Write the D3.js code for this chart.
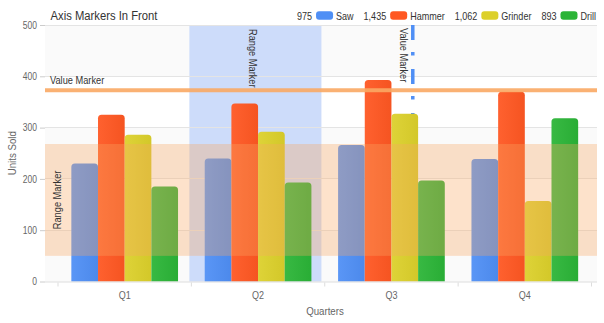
<!DOCTYPE html>
<html><head><meta charset="utf-8">
<script src="https://cdn.jsdelivr.net/npm/d3@7"></script>
<style>body{margin:0;background:#fff;} svg{display:block;font-family:"Liberation Sans",Arial,sans-serif;}</style>
</head><body><svg id="c" width="604" height="323"></svg>
<script>
const quarters = ["Q1","Q2","Q3","Q4"];
const seriesNames = ["Saw","Hammer","Grinder","Drill"];
const saw = [230,240,266,239];
const hammer = [325,347,393,370];
const grinder = [286,292,327,157];
const drill = [185,193,197,318];
const yTickValues = [0,100,200,300,400,500];
const yValueMarker = 373;
const yRangeMarker = [50,268];
const xValueMarker = 2.16;          // in category-index units
const xRangeMarker = [0.485,1.475]; // in category-index units
const seriesColors = ["#4f8ff5","#ff5722","#dcd02b","#2bb437"];
const titleText = "Axis Markers In Front";

const series = [saw,hammer,grinder,drill];
const svg = d3.select("#c");
const L = 45, R = 597, T = 25, B = 281.5;

const y = d3.scaleLinear().domain([0,500]).range([B,T]);
const x0 = d3.scaleBand().domain(quarters).range([58,591.5]);
const bw = x0.bandwidth();
const x1 = d3.scaleBand().domain(seriesNames).range([bw*0.1,bw*0.9]);
const xi = d3.scaleLinear().domain([-0.5,3.5]).range([58,591.5]);

function squeeze(sel,k){ sel.each(function(){ const w=this.getComputedTextLength(); d3.select(this).attr("textLength",w*k).attr("lengthAdjust","spacingAndGlyphs"); }); }

// alternating plot bands
const bandPairs = [[0,100],[200,300],[400,500]];
svg.append("g").selectAll("rect").data(bandPairs).join("rect")
  .attr("x",L).attr("width",R-L).attr("y",d=>y(d[1])).attr("height",d=>y(d[0])-y(d[1]))
  .attr("fill","#fafafa");

// x range marker (behind bars)
svg.append("rect").attr("x",xi(xRangeMarker[0])).attr("width",xi(xRangeMarker[1])-xi(xRangeMarker[0]))
  .attr("y",T).attr("height",B-T).attr("fill","#cddcfa");

// gridlines
svg.append("g").selectAll("line").data(yTickValues.slice(1)).join("line")
  .attr("x1",L).attr("x2",R).attr("y1",d=>y(d)).attr("y2",d=>y(d))
  .attr("stroke","#e4e4e4").attr("stroke-width",1).attr("shape-rendering","crispEdges");

// y axis
const yAxis = svg.append("g").attr("transform",`translate(${L},0)`)
  .call(d3.axisLeft(y).tickValues(yTickValues).tickSize(5).tickPadding(3));
yAxis.select(".domain").remove();
yAxis.selectAll(".tick line").attr("stroke","#cccccc");
yAxis.selectAll(".tick text").attr("fill","#666").style("font-size","10px").attr("font-family","Liberation Sans, Arial");
squeeze(yAxis.selectAll(".tick text"),0.85);

// x value marker dashed line (behind bars)
svg.append("line").attr("x1",xi(xValueMarker)).attr("x2",xi(xValueMarker)).attr("y1",T).attr("y2",B)
  .attr("stroke","#4f8ff5").attr("stroke-width",3.5).attr("stroke-dasharray","15,12,3.5,13.5");

// bars
function topRounded(x,yy,w,h,r){ r=Math.min(r,h,w/2); return `M${x},${yy+h}V${yy+r}Q${x},${yy} ${x+r},${yy}H${x+w-r}Q${x+w},${yy} ${x+w},${yy+r}V${yy+h}Z`; }
const defs = svg.append("defs");
seriesColors.forEach((c,i)=>{
  const g = defs.append("linearGradient").attr("id","g"+i).attr("x1","0").attr("x2","1").attr("y1","0").attr("y2","0");
  g.append("stop").attr("offset","0").attr("stop-color",d3.interpolateRgb(c,"#fff")(0.06));
  g.append("stop").attr("offset","1").attr("stop-color",d3.interpolateRgb(c,"#000")(0.04));
});
const barData = [];
quarters.forEach((q,qi)=>seriesNames.forEach((s,si)=>barData.push({q,s,si,v:series[si][qi]})));
svg.append("g").selectAll("path").data(barData).join("path")
  .attr("d",d=>topRounded(x0(d.q)+x1(d.s),y(d.v),x1.bandwidth(),B-y(d.v),3.5))
  .attr("fill",d=>`url(#g${d.si})`);

// x axis
svg.append("line").attr("x1",L).attr("x2",R).attr("y1",B+0.5).attr("y2",B+0.5).attr("stroke","#dddddd");
const xb = [...quarters.map(q=>x0(q)), x0(quarters[3])+bw];
svg.append("g").selectAll("line").data(xb).join("line")
  .attr("x1",d=>d).attr("x2",d=>d).attr("y1",B+1).attr("y2",B+5).attr("stroke","#dddddd");
const xl = svg.append("g").selectAll("text").data(quarters).join("text")
  .attr("x",d=>x0(d)+bw/2).attr("y",298.5).attr("text-anchor","middle")
  .attr("fill","#666").style("font-size","10px").text(d=>d);
squeeze(xl,0.9);

// y range marker (in front)
svg.append("rect").attr("x",L).attr("width",R-L).attr("y",y(yRangeMarker[1])).attr("height",y(yRangeMarker[0])-y(yRangeMarker[1]))
  .attr("fill","rgb(249,168,100)").attr("fill-opacity",0.335);

// y value marker line
svg.append("line").attr("x1",L).attr("x2",R).attr("y1",y(yValueMarker)).attr("y2",y(yValueMarker))
  .attr("stroke","rgb(249,168,100)").attr("stroke-opacity",0.9).attr("stroke-width",4);

// marker labels
const lab = [];
lab.push(svg.append("text").attr("x",50).attr("y",y(yValueMarker)-6.5).attr("fill","#333").style("font-size","10.5px").text("Value Marker"));
lab.push(svg.append("text").attr("transform",`translate(60.5,${(y(yRangeMarker[0])+y(yRangeMarker[1]))/2}) rotate(-90)`)
  .attr("text-anchor","middle").attr("fill","#333").style("font-size","10.5px").text("Range Marker"));
lab.push(svg.append("text").attr("transform",`translate(${(xi(xRangeMarker[0])+xi(xRangeMarker[1]))/2-6},29) rotate(90)`)
  .attr("fill","#333").style("font-size","10.5px").text("Range Marker"));
lab.push(svg.append("text").attr("transform",`translate(${xi(xValueMarker)-13},28) rotate(90)`)
  .attr("fill","#333").style("font-size","10.5px").text("Value Marker"));
lab.forEach(s=>squeeze(s,0.88));

// axis titles
const yt = svg.append("text").attr("transform",`translate(16,${(T+B)/2}) rotate(-90)`).attr("text-anchor","middle")
  .attr("fill","#666").style("font-size","11px").text("Units Sold");
squeeze(yt,0.88);
const xt = svg.append("text").attr("x",325).attr("y",315).attr("text-anchor","middle")
  .attr("fill","#666").style("font-size","11px").text("Quarters");
squeeze(xt,0.88);

// title
const tt = svg.append("text").attr("x",50.5).attr("y",19.5).attr("fill","#333").style("font-size","12.5px").text(titleText);
squeeze(tt,0.9);

// legend
const fmt = d3.format(",");
const totals = series.map(s=>d3.sum(s));
const lg = svg.append("g");
let cx = 297;
seriesNames.forEach((n,i)=>{
  const t1 = lg.append("text").attr("x",cx).attr("y",19.5).attr("fill","#333").style("font-size","11px").text(fmt(totals[i]));
  squeeze(t1,0.82);
  cx += t1.node().getComputedTextLength() + 4;
  lg.append("rect").attr("x",cx).attr("y",11.3).attr("width",17).attr("height",8.4).attr("rx",3).attr("fill",seriesColors[i]);
  cx += 17 + 3;
  const t2 = lg.append("text").attr("x",cx).attr("y",19.5).attr("fill","#333").style("font-size","11px").text(n);
  squeeze(t2,0.82);
  cx += t2.node().getComputedTextLength() + 10;
});
</script></body></html>
